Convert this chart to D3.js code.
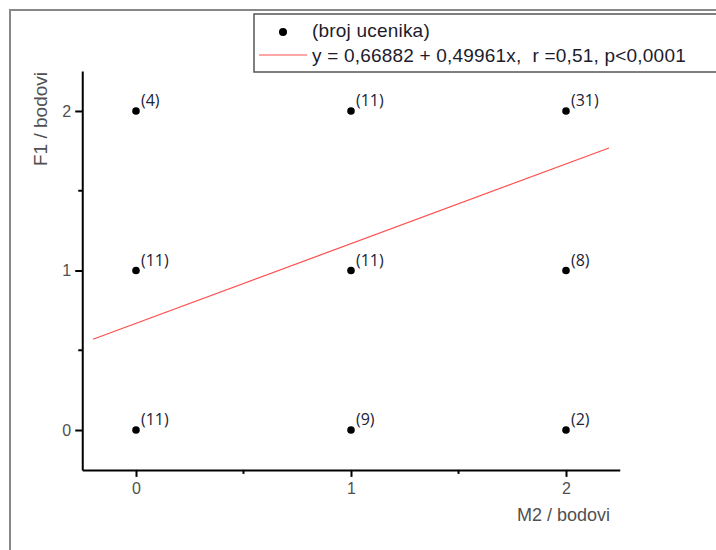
<!DOCTYPE html>
<html lang="en">
  <head>
    <meta charset="utf-8">
    <title>F1 vs M2</title>
    <script src="https://d3js.org/d3.v7.min.js"></script>
    <style>
      html, body {
        padding: 0px;
        margin: 0px;
        background: #fff;
      }
      svg {
        display: block;
        font-family: "Liberation Sans", Arial, sans-serif;
      }
      .axis path, .axis line {
        stroke: #000;
        stroke-width: 2;
      }
      .axis text {
        fill: #505050;
        font-size: 16px;
        font-family: "Liberation Sans", Arial, sans-serif;
      }
      .ptlabel {
        font-family: "Open Sans", sans-serif;
        font-size: 16px;
        fill: #1c2238;
      }
      .lt {
        white-space: pre;
        font-size: 19px;
        letter-spacing: 0.2px;
      }
    </style>
  </head>
  <body>
    <div id="chart"></div>
    <script>
      // data
      var xVals = [0, 0, 0, 1, 1, 1, 2, 2, 2];
      var yVals = [0, 1, 2, 0, 1, 2, 0, 1, 2];
      var counts = [11, 11, 4, 9, 11, 11, 2, 8, 31];
      var intercept = 0.66882, slope = 0.49961;
      var fitRange = [-0.2, 2.2];
      var tickVals = [0, 1, 2];
      var minorTicks = [0.5, 1.5];
      var legendLabels = ["(broj ucenika)", "y = 0,66882 + 0,49961x,  r =0,51, p<0,0001"];

      var W = 716, H = 550;
      var svg = d3.select("#chart").append("svg")
        .attr("width", W)
        .attr("height", H);

      // outer frame
      svg.append("rect")
        .attr("x", 10).attr("y", 10)
        .attr("width", 740).attr("height", 580)
        .attr("fill", "none")
        .attr("stroke", "#888")
        .attr("stroke-width", 2);

      var x = d3.scaleLinear().domain([-0.25, 2.25]).range([82.25, 619.75]);
      var y = d3.scaleLinear().domain([-0.25, 2.25]).range([469.9, 71.1]);

      // axes
      var xAxis = svg.append("g").attr("class", "axis")
        .attr("transform", "translate(0," + y(-0.25) + ")")
        .call(d3.axisBottom(x).tickValues(tickVals).tickFormat(d3.format("d")).tickSize(7).tickSizeOuter(0).tickPadding(6));
      xAxis.selectAll(".minor").data(minorTicks).enter().append("line")
        .attr("class", "minor")
        .attr("x1", function(d) { return x(d); })
        .attr("x2", function(d) { return x(d); })
        .attr("y1", 0).attr("y2", 4);

      var yAxis = svg.append("g").attr("class", "axis")
        .attr("transform", "translate(" + x(-0.25) + ",0)")
        .call(d3.axisLeft(y).tickValues(tickVals).tickFormat(d3.format("d")).tickSize(7).tickSizeOuter(0).tickPadding(4));
      yAxis.selectAll(".minor").data(minorTicks).enter().append("line")
        .attr("class", "minor")
        .attr("y1", function(d) { return y(d); })
        .attr("y2", function(d) { return y(d); })
        .attr("x1", 0).attr("x2", -4);

      // axis titles
      svg.append("text")
        .attr("x", 610).attr("y", 521)
        .attr("text-anchor", "end")
        .attr("fill", "#505050")
        .style("font-size", "18px")
        .text("M2 / bodovi");
      svg.append("text")
        .attr("transform", "translate(47,72) rotate(-90)")
        .attr("text-anchor", "end")
        .attr("fill", "#505050")
        .style("font-size", "19px")
        .text("F1 / bodovi");

      // regression line
      var line = d3.line()
        .x(function(d) { return x(d); })
        .y(function(d) { return y(intercept + slope * d); });
      svg.append("path")
        .datum(fitRange)
        .attr("d", line)
        .attr("fill", "none")
        .attr("stroke", "#ff4d4d")
        .attr("stroke-width", 1.2);

      // points
      var pts = d3.range(counts.length).map(function(i) {
        return {x: xVals[i], y: yVals[i], n: counts[i]};
      });
      svg.selectAll(".pt").data(pts).enter().append("circle")
        .attr("class", "pt")
        .attr("cx", function(d) { return x(d.x); })
        .attr("cy", function(d) { return y(d.y); })
        .attr("r", 3.8)
        .attr("fill", "#000");
      svg.selectAll(".ptlabel").data(pts).enter().append("text")
        .attr("class", "ptlabel")
        .attr("x", function(d) { return x(d.x) + 5; })
        .attr("y", function(d) { return y(d.y) - 5; })
        .text(function(d) { return "(" + d.n + ")"; });

      // legend
      var lg = svg.append("g");
      lg.append("rect")
        .attr("x", 254).attr("y", 14)
        .attr("width", 500).attr("height", 58)
        .attr("fill", "#fff")
        .attr("stroke", "#555")
        .attr("stroke-width", 1.5);
      lg.append("circle").attr("cx", 283).attr("cy", 32).attr("r", 4).attr("fill", "#000");
      lg.append("line")
        .attr("x1", 259).attr("x2", 307).attr("y1", 55).attr("y2", 55)
        .attr("stroke", "#ff4d4d").attr("stroke-width", 1.2);
      lg.selectAll(".lt").data(legendLabels).enter().append("text")
        .attr("class", "lt")
        .attr("x", 312)
        .attr("y", function(d, i) { return 37 + i * 25; })
        .attr("fill", "#1c1c2c")
        .text(function(d) { return d; });
    </script>
  </body>
</html>
